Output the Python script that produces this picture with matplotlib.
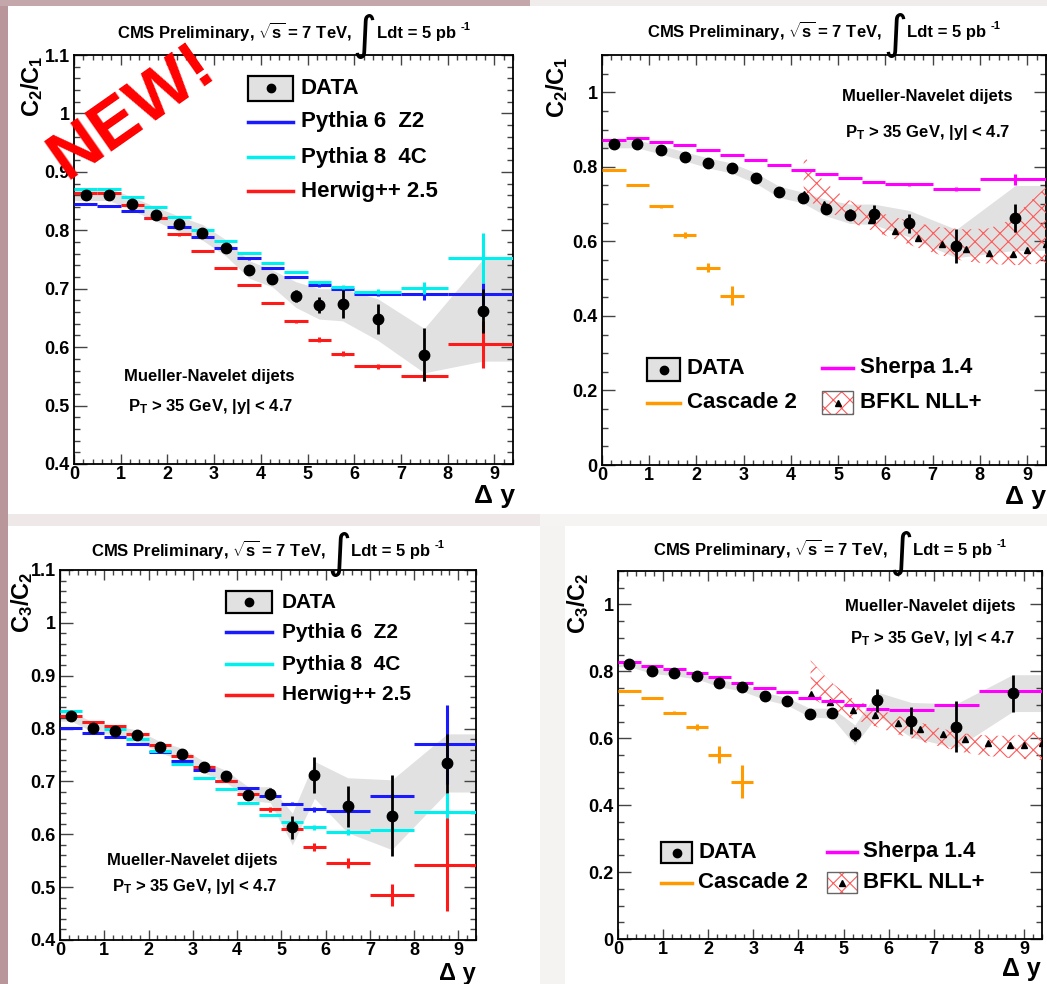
import matplotlib
matplotlib.use('Agg')
import numpy as np
import matplotlib.pyplot as plt
from matplotlib.patches import Rectangle
from matplotlib.lines import Line2D
from matplotlib.ticker import MultipleLocator, FuncFormatter
from matplotlib.transforms import IdentityTransform

plt.rcParams.update({
    'font.family': ['Liberation Sans', 'DejaVu Sans'],
    'font.weight': 'bold',
    'mathtext.fontset': 'custom',
    'mathtext.rm': 'Liberation Sans:bold',
    'mathtext.bf': 'Liberation Sans:bold',
    'mathtext.it': 'Liberation Sans:bold:italic',
    'mathtext.sf': 'Liberation Sans:bold',
    'hatch.linewidth': 0.8,
})

# ---------------- data ----------------
dy_edges = [0, 0.5, 1, 1.5, 2, 2.5, 3, 3.5, 4, 4.5, 5, 5.5, 6, 7, 8, 9.5]

data_c2c1 = [0.861, 0.861, 0.845, 0.827, 0.810, 0.796, 0.769, 0.732, 0.717, 0.687, 0.672, 0.674, 0.648, 0.587, 0.662]
data_c2c1_err = [0.004, 0.004, 0.004, 0.004, 0.004, 0.004, 0.005, 0.006, 0.006, 0.010, 0.014, 0.024, 0.025, 0.045, 0.037]
band_c2c1_hi = [0.872, 0.872, 0.857, 0.840, 0.824, 0.810, 0.784, 0.748, 0.732, 0.712, 0.700, 0.700, 0.683, 0.632, 0.750]
band_c2c1_lo = [0.851, 0.851, 0.834, 0.816, 0.797, 0.783, 0.756, 0.718, 0.703, 0.668, 0.648, 0.645, 0.612, 0.556, 0.576]

data_c3c2 = [0.823, 0.802, 0.796, 0.787, 0.765, 0.752, 0.727, 0.710, 0.674, 0.676, 0.613, 0.713, 0.653, 0.635, 0.734]
data_c3c2_err = [0.004, 0.004, 0.004, 0.004, 0.005, 0.005, 0.006, 0.006, 0.007, 0.011, 0.022, 0.034, 0.039, 0.077, 0.056]
band_c3c2_hi = [0.832, 0.812, 0.806, 0.797, 0.776, 0.763, 0.738, 0.721, 0.690, 0.690, 0.640, 0.738, 0.707, 0.703, 0.790]
band_c3c2_lo = [0.814, 0.794, 0.787, 0.777, 0.754, 0.741, 0.716, 0.699, 0.664, 0.660, 0.580, 0.668, 0.603, 0.571, 0.680]

pythia6_c2c1 = [0.845, 0.841, 0.833, 0.821, 0.805, 0.788, 0.769, 0.752, 0.735, 0.720, 0.706, 0.699, 0.691, 0.691, 0.691]
pythia6_c2c1_err = [0.002, 0.002, 0.002, 0.002, 0.002, 0.002, 0.002, 0.002, 0.002, 0.002, 0.003, 0.003, 0.004, 0.010, 0.019]
pythia8_c2c1 = [0.870, 0.870, 0.857, 0.839, 0.822, 0.801, 0.782, 0.761, 0.744, 0.729, 0.711, 0.703, 0.695, 0.701, 0.753]
pythia8_c2c1_err = [0.002, 0.002, 0.002, 0.002, 0.002, 0.002, 0.002, 0.002, 0.002, 0.002, 0.003, 0.003, 0.004, 0.010, 0.043]
herwig_c2c1 = [0.863, 0.863, 0.843, 0.821, 0.793, 0.765, 0.736, 0.706, 0.676, 0.644, 0.613, 0.589, 0.567, 0.550, 0.605]
herwig_c2c1_err = [0.002, 0.002, 0.002, 0.002, 0.002, 0.002, 0.002, 0.002, 0.002, 0.003, 0.004, 0.004, 0.005, 0.008, 0.04]

sherpa_c2c1 = [0.871, 0.878, 0.866, 0.858, 0.846, 0.832, 0.819, 0.806, 0.792, 0.781, 0.770, 0.759, 0.753, 0.740, 0.766]
sherpa_c2c1_err = [0.002, 0.002, 0.002, 0.002, 0.002, 0.002, 0.002, 0.002, 0.002, 0.002, 0.003, 0.003, 0.004, 0.006, 0.016]
cascade_c2c1 = [0.792, 0.752, 0.694, 0.618, 0.529, 0.454]
cascade_c2c1_err = [0.002, 0.002, 0.004, 0.008, 0.012, 0.025]

pythia6_c3c2 = [0.801, 0.791, 0.784, 0.770, 0.756, 0.738, 0.721, 0.701, 0.688, 0.672, 0.658, 0.647, 0.644, 0.672, 0.770]
pythia6_c3c2_err = [0.002, 0.002, 0.002, 0.002, 0.002, 0.002, 0.002, 0.002, 0.002, 0.002, 0.003, 0.004, 0.004, 0.004, 0.075]
pythia8_c3c2 = [0.833, 0.812, 0.800, 0.780, 0.758, 0.733, 0.706, 0.686, 0.659, 0.637, 0.623, 0.613, 0.604, 0.609, 0.642]
pythia8_c3c2_err = [0.002, 0.002, 0.002, 0.002, 0.002, 0.002, 0.002, 0.002, 0.002, 0.002, 0.003, 0.004, 0.006, 0.004, 0.036]
herwig_c3c2 = [0.824, 0.813, 0.805, 0.790, 0.769, 0.749, 0.727, 0.701, 0.676, 0.647, 0.610, 0.576, 0.546, 0.485, 0.542]
herwig_c3c2_err = [0.002, 0.002, 0.002, 0.002, 0.002, 0.002, 0.002, 0.002, 0.003, 0.004, 0.005, 0.008, 0.010, 0.021, 0.088]

sherpa_c3c2 = [0.828, 0.815, 0.807, 0.795, 0.783, 0.766, 0.750, 0.738, 0.721, 0.710, 0.699, 0.688, 0.684, 0.700, 0.741]
sherpa_c3c2_err = [0.002, 0.002, 0.002, 0.002, 0.002, 0.002, 0.002, 0.002, 0.002, 0.002, 0.003, 0.003, 0.004, 0.005, 0.01]
cascade_c3c2 = [0.741, 0.720, 0.677, 0.634, 0.551, 0.470]
cascade_c3c2_err = [0.002, 0.002, 0.004, 0.010, 0.025, 0.050]

bfkl_x = [4.27, 4.7, 5.2, 5.7, 6.2, 6.7, 7.2, 7.7, 8.2, 8.7, 9.0, 9.4]
bfkl_c2c1 = [0.728, 0.700, 0.674, 0.656, 0.629, 0.610, 0.594, 0.579, 0.569, 0.567, 0.578, 0.594]
bfkl_c2c1_hi = [0.830, 0.760, 0.712, 0.684, 0.665, 0.648, 0.637, 0.632, 0.635, 0.660, 0.700, 0.745]
bfkl_c2c1_lo = [0.716, 0.685, 0.655, 0.630, 0.606, 0.582, 0.562, 0.546, 0.540, 0.536, 0.538, 0.542]
bfkl_c3c2 = [0.733, 0.708, 0.686, 0.669, 0.647, 0.629, 0.612, 0.597, 0.586, 0.579, 0.579, 0.586]
bfkl_c3c2_hi = [0.833, 0.770, 0.718, 0.690, 0.667, 0.647, 0.628, 0.614, 0.608, 0.607, 0.612, 0.622]
bfkl_c3c2_lo = [0.722, 0.690, 0.658, 0.636, 0.612, 0.592, 0.573, 0.557, 0.547, 0.541, 0.538, 0.535]

# ---------------- style ----------------
C_BLUE = '#1a1aff'
C_CYAN = '#00f0f0'
C_RED = '#ff1a1a'
C_MAG = '#ff00ff'
C_ORANGE = '#ff9a00'
C_BAND = '#e1e1e1'
C_HATCH = '#ff5a5a'

W, H = 1047, 984
fig = plt.figure(figsize=(W / 100, H / 100), dpi=100)
fig.patch.set_facecolor('white')

# slide background pieces
for (x0, y0, x1, y1, c) in [(0, 0, 8, H, '#b99699'), (0, 0, 530, 6, '#c4a7aa'),
                            (530, 0, W, 6, '#f1ecec'), (8, 514, 540, 526, '#efe8e8'),
                            (540, 514, W, 526, '#f6f3f3'), (540, 526, 565, H, '#f5f2f2')]:
    fig.patches.append(Rectangle((x0 / W, 1 - y1 / H), (x1 - x0) / W, (y1 - y0) / H,
                                 transform=fig.transFigure, color=c, zorder=0, lw=0))

edges = np.array(dy_edges)
centers = 0.5 * (edges[1:] + edges[:-1])
halfw = 0.5 * (edges[1:] - edges[:-1])


def add_axes(b):
    L, T, R, B = b
    return fig.add_axes([L / W, 1 - B / H, (R - L) / W, (B - T) / H])


def setup(ax, ylim, ymaj, ymin):
    ax.set_xlim(0, 9.4)
    ax.set_ylim(*ylim)
    ax.xaxis.set_major_locator(MultipleLocator(1))
    ax.xaxis.set_minor_locator(MultipleLocator(0.2))
    ax.yaxis.set_major_locator(MultipleLocator(ymaj))
    ax.yaxis.set_minor_locator(MultipleLocator(ymin))
    fmt = FuncFormatter(lambda v, p: f'{round(v, 3):g}')
    ax.xaxis.set_major_formatter(fmt)
    ax.yaxis.set_major_formatter(fmt)
    ax.tick_params(which='both', direction='in', top=True, right=True, labelsize=13,
                   color='#444444', width=1)
    ax.tick_params(axis='x', which='major', length=7, pad=1.5)
    ax.tick_params(axis='x', which='minor', length=3.5)
    ax.tick_params(axis='y', which='major', length=9, pad=3)
    ax.tick_params(axis='y', which='minor', length=4.5)
    for s in ax.spines.values():
        s.set_linewidth(1.3)
        s.set_color('black')
    ax.set_facecolor('white')


def px2ax(b, px, py):
    L, T, R, B = b
    return (px - L) / (R - L), (B - py) / (B - T)


def draw_band(ax, hi, lo):
    xb = np.concatenate([[edges[0]], centers, [edges[-1]]])
    hb = np.concatenate([[hi[0]], hi, [hi[-1]]])
    lb = np.concatenate([[lo[0]], lo, [lo[-1]]])
    ax.fill_between(xb, lb, hb, color=C_BAND, lw=0, zorder=1)


def draw_data(ax, vals, errs):
    ax.errorbar(centers, vals, yerr=errs, fmt='o', color='black', ms=7.5,
                elinewidth=2, capsize=0, zorder=10)


def draw_model(ax, vals, errs, color):
    n = len(vals)
    ax.errorbar(centers[:n], vals, xerr=halfw[:n], yerr=errs, fmt='none',
                ecolor=color, elinewidth=2.2, capsize=0, zorder=5)


def draw_bfkl(ax, vals, hi, lo):
    ax.fill_between(bfkl_x, lo, hi, facecolor='none', edgecolor=C_HATCH, hatch='xx',
                    lw=0, zorder=3)
    ax.plot(bfkl_x, vals, '^', color='black', ms=4.5, zorder=4, clip_on=True)


def title(b, cy):
    L, T, R, B = b
    cx = 0.5 * (L + R)
    rend = fig.canvas.get_renderer()
    pieces = [
        (r'CMS Preliminary, $\sqrt{\mathbf{s}}$ = 7 TeV, ', 12, 0, 'bold', ['Liberation Sans', 'DejaVu Sans']),
        ('\u222b', 33, -11, 'normal', ['DejaVu Sans']),
        ('Ldt = 5 pb ', 12, 0, 'bold', ['Liberation Sans', 'DejaVu Sans']),
        ('-1', 8, 8, 'bold', ['Liberation Sans', 'DejaVu Sans']),
    ]
    texts = []
    widths = []
    for s, fs, dy, wt, fam in pieces:
        t = fig.text(0, 0, s, fontsize=fs, fontweight=wt, family=fam,
                     transform=IdentityTransform(), ha='left', va='baseline', zorder=20)
        widths.append(t.get_window_extent(rend).width)
        texts.append((t, dy))
    tot = sum(widths)
    x = cx - tot / 2
    base = H - (cy + 5)
    for (t, dy), w in zip(texts, widths):
        t.set_position((x, base + dy))
        x += w


def legend_box(ax, b, box, hatch=False):
    (x0, y0, x1, y1) = box
    ax0, ay1 = px2ax(b, x0, y0)
    ax1, ay0 = px2ax(b, x1, y1)
    if hatch:
        ax.add_patch(Rectangle((ax0, ay0), ax1 - ax0, ay1 - ay0, transform=ax.transAxes,
                               facecolor='white', edgecolor=C_HATCH, hatch='xx', lw=0,
                               clip_on=False, zorder=12))
        ax.add_patch(Rectangle((ax0, ay0), ax1 - ax0, ay1 - ay0, transform=ax.transAxes,
                               facecolor='none', edgecolor='#666666', lw=1.0,
                               clip_on=False, zorder=13))
        ax.plot([(ax0 + ax1) / 2], [(ay0 + ay1) / 2], '^', color='black', ms=4.5,
                transform=ax.transAxes, clip_on=False, zorder=14)
    else:
        ax.add_patch(Rectangle((ax0, ay0), ax1 - ax0, ay1 - ay0, transform=ax.transAxes,
                               facecolor=C_BAND, edgecolor='black', lw=1.6,
                               clip_on=False, zorder=12))
        ax.plot([(ax0 + ax1) / 2], [(ay0 + ay1) / 2], 'o', color='black', ms=6,
                transform=ax.transAxes, clip_on=False, zorder=14)


def legend_line(ax, b, x0, x1, yc, color):
    ax0, ayc = px2ax(b, x0, yc)
    ax1, _ = px2ax(b, x1, yc)
    ax.add_line(Line2D([ax0, ax1], [ayc, ayc], color=color, lw=2.5, transform=ax.transAxes,
                       clip_on=False, zorder=12))


def legend_text(ax, b, x, yc, s, fs):
    axx, axy = px2ax(b, x, yc)
    ax.text(axx, axy, s, transform=ax.transAxes, ha='left', va='center', fontsize=fs,
            fontweight='bold', zorder=14)


def note(ax, b, x, yc, s, fs=12):
    axx, axy = px2ax(b, x, yc)
    ax.text(axx, axy, s, transform=ax.transAxes, ha='left', va='center', fontsize=fs,
            fontweight='bold', zorder=14)


def ylabel(ax, b, xc, ytop, s):
    axx, axy = px2ax(b, xc, ytop)
    ax.text(axx, axy, s, transform=ax.transAxes, rotation=90, ha='center', va='top',
            fontsize=17, fontweight='bold', clip_on=False)


def xlabel(ax, b, xr, ytop, fs=19):
    axx, axy = px2ax(b, xr, ytop)
    ax.text(axx, axy, '\u0394 y', transform=ax.transAxes, ha='right', va='top',
            fontsize=fs, fontweight='bold', clip_on=False)


PT_LABEL = r'P$_{\mathbf{T}}$ > 35 GeV, |y| < 4.7'
MN_LABEL = 'Mueller-Navelet dijets'

# ---------------- panel 1: C2/C1 vs MC ----------------
B1 = (74, 55, 513, 464)
ax1 = add_axes(B1)
setup(ax1, (0.4, 1.1), 0.1, 0.02)
draw_band(ax1, band_c2c1_hi, band_c2c1_lo)
draw_model(ax1, pythia6_c2c1, pythia6_c2c1_err, C_BLUE)
draw_model(ax1, pythia8_c2c1, pythia8_c2c1_err, C_CYAN)
draw_model(ax1, herwig_c2c1, herwig_c2c1_err, C_RED)
draw_data(ax1, data_c2c1, data_c2c1_err)
legend_box(ax1, B1, (248, 76, 293, 101))
legend_text(ax1, B1, 301, 89, 'DATA', 16)
legend_line(ax1, B1, 248, 293, 122, C_BLUE)
legend_text(ax1, B1, 301, 122, 'Pythia 6  Z2', 16)
legend_line(ax1, B1, 248, 293, 157, C_CYAN)
legend_text(ax1, B1, 301, 157, 'Pythia 8  4C', 16)
legend_line(ax1, B1, 248, 293, 191, C_RED)
legend_text(ax1, B1, 301, 191, 'Herwig++ 2.5', 16)
note(ax1, B1, 124, 377, MN_LABEL)
note(ax1, B1, 128, 406, PT_LABEL)
ylabel(ax1, B1, 32, 55, r'C$_{\mathbf{2}}$/C$_{\mathbf{1}}$')
xlabel(ax1, B1, 515, 484)
title(B1, 33)

# ---------------- panel 2: C2/C1 vs theory ----------------
B2 = (602, 55, 1046, 465)
ax2 = add_axes(B2)
setup(ax2, (0, 1.1), 0.2, 0.05)
draw_band(ax2, band_c2c1_hi, band_c2c1_lo)
draw_bfkl(ax2, bfkl_c2c1, bfkl_c2c1_hi, bfkl_c2c1_lo)
draw_model(ax2, sherpa_c2c1, sherpa_c2c1_err, C_MAG)
draw_model(ax2, cascade_c2c1, cascade_c2c1_err, C_ORANGE)
draw_data(ax2, data_c2c1, data_c2c1_err)
legend_box(ax2, B2, (647, 358, 680, 381))
legend_text(ax2, B2, 687, 369, 'DATA', 16)
legend_line(ax2, B2, 647, 680, 403, C_ORANGE)
legend_text(ax2, B2, 687, 403, 'Cascade 2', 16)
legend_line(ax2, B2, 822, 853, 368, C_MAG)
legend_text(ax2, B2, 860, 368, 'Sherpa 1.4', 16)
legend_box(ax2, B2, (822, 391, 853, 414), hatch=True)
legend_text(ax2, B2, 860, 403, 'BFKL NLL+', 16)
note(ax2, B2, 842, 96, MN_LABEL)
note(ax2, B2, 845, 132, PT_LABEL)
ylabel(ax2, B2, 557, 56, r'C$_{\mathbf{2}}$/C$_{\mathbf{1}}$')
xlabel(ax2, B2, 1046, 485)
title(B2, 32)

# ---------------- panel 3: C3/C2 vs MC ----------------
B3 = (60, 570, 476, 940)
ax3 = add_axes(B3)
setup(ax3, (0.4, 1.1), 0.1, 0.02)
draw_band(ax3, band_c3c2_hi, band_c3c2_lo)
draw_model(ax3, pythia6_c3c2, pythia6_c3c2_err, C_BLUE)
draw_model(ax3, pythia8_c3c2, pythia8_c3c2_err, C_CYAN)
draw_model(ax3, herwig_c3c2, herwig_c3c2_err, C_RED)
draw_data(ax3, data_c3c2, data_c3c2_err)
legend_box(ax3, B3, (226, 591, 272, 613))
legend_text(ax3, B3, 282, 602, 'DATA', 15)
legend_line(ax3, B3, 226, 272, 632, C_BLUE)
legend_text(ax3, B3, 282, 632, 'Pythia 6  Z2', 15)
legend_line(ax3, B3, 226, 272, 664, C_CYAN)
legend_text(ax3, B3, 282, 664, 'Pythia 8  4C', 15)
legend_line(ax3, B3, 226, 272, 695, C_RED)
legend_text(ax3, B3, 282, 695, 'Herwig++ 2.5', 15)
note(ax3, B3, 107, 860, MN_LABEL)
note(ax3, B3, 112, 887, PT_LABEL)
ylabel(ax3, B3, 22, 571, r'C$_{\mathbf{3}}$/C$_{\mathbf{2}}$')
xlabel(ax3, B3, 476, 962, fs=17)
title(B3, 551)

# ---------------- panel 4: C3/C2 vs theory ----------------
B4 = (618, 571, 1042, 939)
ax4 = add_axes(B4)
setup(ax4, (0, 1.1), 0.2, 0.05)
draw_band(ax4, band_c3c2_hi, band_c3c2_lo)
draw_bfkl(ax4, bfkl_c3c2, bfkl_c3c2_hi, bfkl_c3c2_lo)
draw_model(ax4, sherpa_c3c2, sherpa_c3c2_err, C_MAG)
draw_model(ax4, cascade_c3c2, cascade_c3c2_err, C_ORANGE)
draw_data(ax4, data_c3c2, data_c3c2_err)
legend_box(ax4, B4, (661, 842, 692, 863))
legend_text(ax4, B4, 698, 853, 'DATA', 16)
legend_line(ax4, B4, 661, 692, 883, C_ORANGE)
legend_text(ax4, B4, 698, 883, 'Cascade 2', 16)
legend_line(ax4, B4, 827, 857, 852, C_MAG)
legend_text(ax4, B4, 863, 852, 'Sherpa 1.4', 16)
legend_box(ax4, B4, (827, 872, 857, 893), hatch=True)
legend_text(ax4, B4, 863, 883, 'BFKL NLL+', 16)
note(ax4, B4, 845, 607, MN_LABEL)
note(ax4, B4, 850, 639, PT_LABEL)
ylabel(ax4, B4, 578, 572, r'C$_{\mathbf{3}}$/C$_{\mathbf{2}}$')
xlabel(ax4, B4, 1041, 957, fs=18)
title(B4, 550)

# "NEW!" stamp
fig.text(132 / W, 1 - 112 / H, 'NEW!', color='#ff0000', fontsize=50, fontweight='bold',
         rotation=35, ha='center', va='center', zorder=30)

fig.savefig('out.png', dpi=100)
